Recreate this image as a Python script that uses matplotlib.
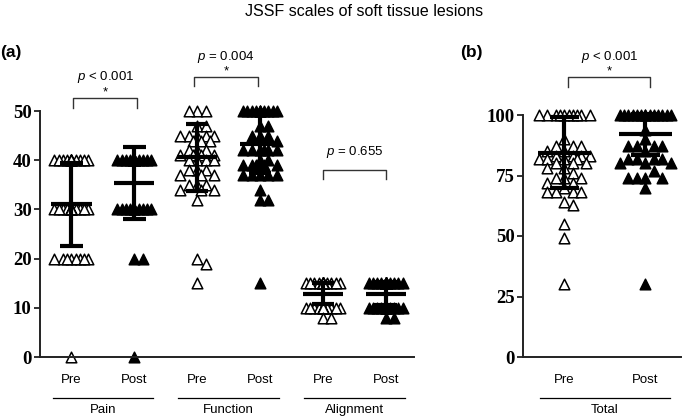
import matplotlib
matplotlib.use("Agg")
import matplotlib.pyplot as plt

plt.rcParams['font.family'] = ['Liberation Sans', 'DejaVu Sans']
plt.rcParams['mathtext.fontset'] = 'custom'
plt.rcParams['mathtext.rm'] = 'Liberation Sans'
plt.rcParams['mathtext.it'] = 'Liberation Sans:italic'

# ---- data ----
groups_a = ["Pain", "Function", "Alignment"]
groups_b = ["Total"]
phases = ["Pre", "Post"]

pain_pre = [40]*15 + [30]*16 + [20]*8 + [0]
pain_post = [40]*26 + [30]*11 + [20]*2 + [0]
function_pre = [50]*3 + [47]*2 + [45]*5 + [44]*3 + [42]*3 + [41]*4 + [40]*4 + \
               [38]*3 + [37]*3 + [35]*3 + [34]*3 + [32, 20, 19, 15]
function_post = [50]*11 + [47]*2 + [45]*3 + [44] + [42]*6 + [40]*2 + [39]*6 + \
                [37]*5 + [34, 32, 32, 15]
align_pre = [15]*24 + [10]*14 + [8]*2
align_post = [15]*25 + [10]*13 + [8]*2
total_pre = [100]*10 + [90] + [87]*3 + [85]*2 + [83]*4 + [82]*4 + [80]*3 + [78]*2 + \
            [76] + [74]*3 + [72]*2 + [70] + [68]*4 + [64, 63, 55, 49, 30]
total_post = [100]*14 + [94, 90] + [87]*4 + [85] + [82]*4 + [80]*3 + [77] + [74]*4 + [70, 30]

# mean and SD as drawn
means_a = [31.0, 35.3, 40.6, 43.3, 12.9, 12.9]
sds_a = [8.5, 7.3, 6.8, 5.8, 2.2, 2.3]
means_b = [84.5, 92.0]
sds_b = [14.5, 8.5]

p_a = ["< 0.001", "= 0.004", "= 0.655"]
sig_a = [True, True, False]
p_b = ["< 0.001"]


def swarm(vals, xstep, ystep, maxw):
    slots = [0.0]
    k = 1
    while k * xstep / 2 <= maxw:
        slots += [k * xstep / 2, -k * xstep / 2]
        k += 1
    placed, offs = [], []
    for v in vals:
        best, bestd = 0.0, -1
        for s in slots:
            d = min([((s - px) / xstep) ** 2 + ((v - py) / ystep) ** 2 for px, py in placed] or [9])
            if d >= 1:
                best = s
                break
            if d > bestd:
                best, bestd = s, d
        offs.append(best)
        placed.append((best, v))
    return offs


def column(ax, x, vals, filled, xstep, ystep, maxw):
    offs = swarm(vals, xstep, ystep, maxw)
    ax.scatter([x + o for o in offs], vals, marker='^', s=58,
               facecolor='black' if filled else 'white', edgecolor='black',
               linewidth=1.1, zorder=2, clip_on=False)


def errbar(ax, x, m, sd, mw, cw):
    kw = dict(color='black', lw=3, solid_capstyle='butt', zorder=3, clip_on=False)
    ax.plot([x, x], [m - sd, m + sd], **kw)
    ax.plot([x - mw, x + mw], [m, m], **kw)
    ax.plot([x - cw, x + cw], [m - sd, m - sd], **kw)
    ax.plot([x - cw, x + cw], [m + sd, m + sd], **kw)


def bracket(ax, x1, x2, y, h, ptxt, star, ytxt):
    ax.plot([x1, x1, x2, x2], [y - h, y, y, y - h], color='#333333', lw=1.0, clip_on=False)
    if star:
        ax.text((x1 + x2) / 2, y, '*', ha='center', va='bottom', fontsize=9.5)
    ax.text((x1 + x2) / 2, ytxt, r'$p$ ' + ptxt, ha='center', va='center', fontsize=9.5)


def style(ax):
    for s in ['top', 'right']:
        ax.spines[s].set_visible(False)
    for s in ['left', 'bottom']:
        ax.spines[s].set_linewidth(1.4)
        ax.spines[s].set_color('#222222')
    ax.tick_params(axis='y', length=4, width=1.3, color='#222222', pad=2)
    ax.set_xticks([])
    for lab in ax.get_yticklabels():
        lab.set_fontfamily(['Liberation Serif'])
        lab.set_fontweight('bold')
        lab.set_fontsize(13.5)


def bottom_labels(ax, xs, names, hpx):
    tr = ax.get_xaxis_transform()
    for i, name in enumerate(names):
        c = (xs[2 * i] + xs[2 * i + 1]) / 2
        for j in range(2):
            ax.text(xs[2 * i + j], -23 / hpx, phases[j], transform=tr,
                    ha='center', va='center', fontsize=9.5)
        ax.plot([c - 0.8, c + 0.8], [-41 / hpx] * 2, transform=tr, color='black',
                lw=0.9, clip_on=False)
        ax.text(c, -53 / hpx, name, transform=tr, ha='center', va='center', fontsize=9.5)


fig = plt.figure(figsize=(6.85, 4.17), dpi=100)
ha, hb = 246, 242
ax_a = fig.add_axes([40 / 685, 60 / 417, 374 / 685, ha / 417])
ax_b = fig.add_axes([523 / 685, 60 / 417, 158 / 685, hb / 417])

# panel (a)
xs_a = [1, 2, 3, 4, 5, 6]
data_a = [pain_pre, pain_post, function_pre, function_post, align_pre, align_post]
for i, vals in enumerate(data_a):
    column(ax_a, xs_a[i], vals, i % 2 == 1, 0.135, 1.8, 0.3)
    errbar(ax_a, xs_a[i], means_a[i], sds_a[i], 0.32, 0.18)
ax_a.set_xlim(0.5, 6.45)
ax_a.set_ylim(0, 50)
ax_a.set_yticks([0, 10, 20, 30, 40, 50])
style(ax_a)
bottom_labels(ax_a, xs_a, groups_a, ha)
bracket(ax_a, 1.03, 2.05, 52.6, 2.0, p_a[0], sig_a[0], 56.9)
bracket(ax_a, 2.95, 3.97, 56.9, 1.8, p_a[1], sig_a[1], 61.0)
bracket(ax_a, 5.0, 6.0, 38.0, 1.8, p_a[2], sig_a[2], 41.7)

# panel (b)
xs_b = [1, 2]
data_b = [total_pre, total_post]
for i, vals in enumerate(data_b):
    column(ax_b, xs_b[i], vals, i == 1, 0.105, 3.7, 0.32)
    errbar(ax_b, xs_b[i], means_b[i], sds_b[i], 0.33, 0.18)
ax_b.set_xlim(0.49, 2.44)
ax_b.set_ylim(0, 100)
ax_b.set_yticks([0, 25, 50, 75, 100])
style(ax_b)
bottom_labels(ax_b, xs_b, groups_b, hb)
bracket(ax_b, 1.05, 2.06, 115.7, 4.1, p_b[0], True, 124.0)

fig.text(364 / 685, 1 - 12 / 417, "JSSF scales of soft tissue lesions", ha='center', va='center', fontsize=11.5)
fig.text(0.0, 1 - 52 / 417, "(a)", ha='left', va='center', fontsize=12.5, fontweight='bold')
fig.text(460 / 685, 1 - 52 / 417, "(b)", ha='left', va='center', fontsize=12.5, fontweight='bold')

fig.savefig("out.png", dpi=100)
